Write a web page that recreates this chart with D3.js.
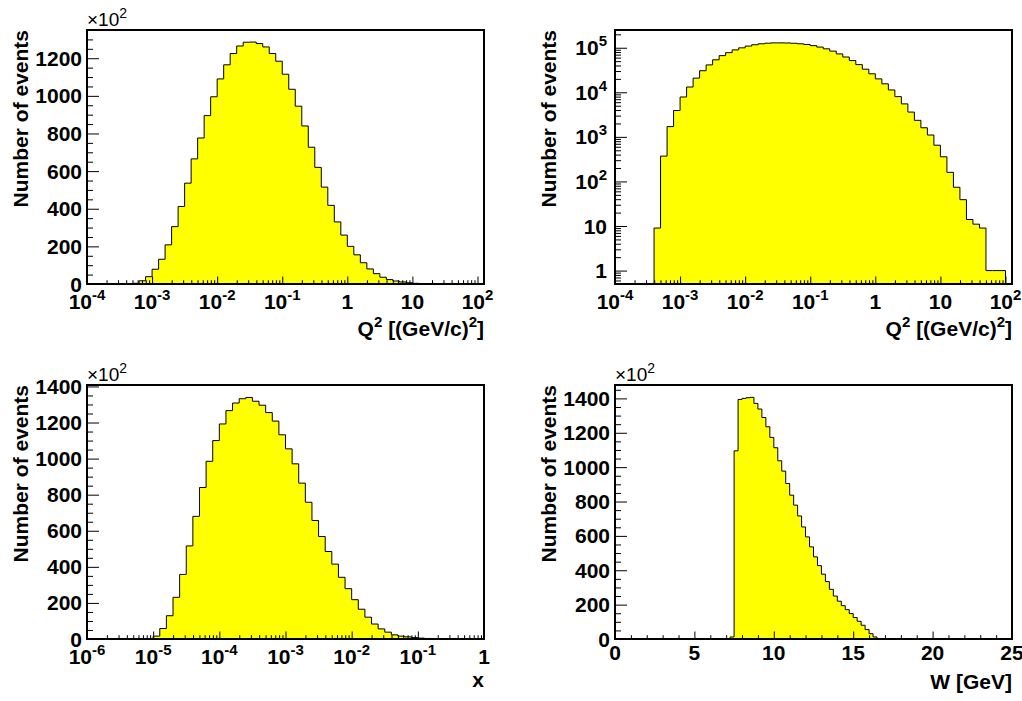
<!DOCTYPE html>
<html>
<head>
<meta charset="utf-8">
<script src="https://cdn.jsdelivr.net/npm/d3@7"></script>
<style>
  body { margin: 0; background: #fff; }
  text { font-family: "Liberation Sans", Arial, Helvetica, sans-serif; }
</style>
</head>
<body>
<div id="chart"></div>
<script>
// Q^2 : 60 log bins, 1e-4 .. 1e2 (10 per decade)
var q2Counts = [
  0, 0, 0, 0, 0, 0, 9, 370, 1700, 3900,
  7850, 13150, 20800, 30500, 41200, 53600, 66500, 77600, 89500, 99500,
  109000, 116500, 122500, 126500, 128500, 128600, 127800, 126000, 122500, 118400,
  111500, 103500, 94500, 84000, 72700, 62000, 51500, 41800, 33000, 26000,
  20000, 15500, 11300, 8000, 5500, 3600, 2350, 1600, 1100, 650,
  357, 160, 74, 39, 14, 11, 9, 1, 1, 1
];

// Bjorken x : 60 log bins, 1e-6 .. 1
var xCounts = [
  0, 0, 0, 0, 0, 0, 0, 0, 0, 300,
  1600, 5800, 12900, 23100, 35800, 51600, 68000, 84000, 98500, 110000,
  119200, 126600, 130800, 133200, 133900, 131800, 129600, 125500, 120800, 113200,
  105400, 97100, 86400, 75800, 65700, 56800, 48500, 41500, 34200, 27900,
  21800, 16500, 12100, 8300, 5600, 3800, 2300, 1600, 1200, 800,
  500, 300, 200, 100, 0, 0, 0, 0, 0, 0
];

// W : 0.25 GeV bins from 0 to 25, non-empty from 7.25 GeV
var wStart = 7.25, wStep = 0.25, wBins = 100;
var wCounts = [
  1200, 109500, 139400, 140000, 140400, 140600, 137100, 133800, 128900, 123500,
  117300, 111300, 103700, 97700, 90500, 83700, 77900, 71600, 65200, 59400,
  53600, 47800, 42700, 37700, 33400, 28900, 25000, 22000, 19400, 17100,
  14800, 12500, 10300, 8000, 5500, 3100, 1200
];

var q2Exps = [-4, -3, -2, -1, 0, 1, 2];
var xExps = [-6, -5, -4, -3, -2, -1, 0];
var logYExps = [0, 1, 2, 3, 4, 5];
var wTicks = [0, 5, 10, 15, 20, 25];

var q2Edges = d3.range(61).map(function(i) { return Math.pow(10, -4 + i / 10); });
var xEdges = d3.range(61).map(function(i) { return Math.pow(10, -6 + i / 10); });
var wEdges = d3.range(wBins + 1).map(function(i) { return i * wStep; });
var wFull = d3.range(wBins).map(function(i) {
  var j = i - Math.round(wStart / wStep);
  return (j >= 0 && j < wCounts.length) ? wCounts[j] : 0;
});

var svg = d3.select("#chart").append("svg")
  .attr("width", 1022)
  .attr("height", 701);

var FS = 21, SUP = 15;

function minorLog(lo, hi) {
  var out = [];
  for (var k = Math.floor(Math.log10(lo)) - 1; k <= Math.ceil(Math.log10(hi)); k++) {
    for (var m = 2; m <= 9; m++) {
      var v = m * Math.pow(10, k);
      if (v > lo * 1.0001 && v < hi * 0.9999) out.push(v);
    }
  }
  return out;
}

// "10" with superscript exponent, or 1 / 10
function powLabel(t, e) {
  if (e === 0) { t.text("1"); return; }
  if (e === 1) { t.text("10"); return; }
  t.append("tspan").text("10");
  t.append("tspan").attr("dy", -9).attr("font-size", SUP).text(e);
}

function drawPanel(p) {
  var g = svg.append("g");
  var x = p.x, y = p.y;
  var base = y.domain()[0];

  // histogram outline + fill
  var pts = [[x(p.edges[0]), y(base)]];
  p.values.forEach(function(v, i) {
    var vv = Math.max(v, base);
    pts.push([x(p.edges[i]), y(vv)]);
    pts.push([x(p.edges[i + 1]), y(vv)]);
  });
  pts.push([x(p.edges[p.edges.length - 1]), y(base)]);
  g.append("path")
    .attr("d", d3.line()(pts))
    .attr("fill", "#ffff00")
    .attr("stroke", "#000")
    .attr("stroke-width", 1);

  // ticks
  var yAx = g.append("g").attr("transform", "translate(" + p.left + ",0)");
  yAx.append("g").call(d3.axisLeft(y).tickValues(p.yMajor).tickSize(-12).tickFormat(""));
  yAx.append("g").call(d3.axisLeft(y).tickValues(p.yMinor).tickSize(-6).tickFormat(""));
  var xAx = g.append("g").attr("transform", "translate(0," + p.bottom + ")");
  xAx.append("g").call(d3.axisBottom(x).tickValues(p.xMajor).tickSize(-7.5).tickFormat(""));
  xAx.append("g").call(d3.axisBottom(x).tickValues(p.xMinor).tickSize(-3.8).tickFormat(""));
  g.selectAll(".domain").remove();
  g.selectAll(".tick line").attr("stroke", "#000");

  // frame
  g.append("rect")
    .attr("x", p.left).attr("y", p.top)
    .attr("width", p.right - p.left).attr("height", p.bottom - p.top)
    .attr("fill", "none").attr("stroke", "#000").attr("stroke-width", 2);

  // y labels
  p.yMajor.forEach(function(v) {
    var t = g.append("text")
      .attr("x", p.left - (p.yLog ? 8 : 5))
      .attr("y", y(v))
      .attr("dy", "0.36em")
      .attr("text-anchor", "end")
      .attr("font-size", FS).attr("font-weight", "bold");
    if (p.yLog) powLabel(t, Math.round(Math.log10(v)));
    else t.text(d3.format("d")(v));
  });

  // x labels
  p.xMajor.forEach(function(v) {
    var t = g.append("text")
      .attr("x", x(v))
      .attr("y", p.bottom + (p.xLog ? 25 : 21))
      .attr("text-anchor", "middle")
      .attr("font-size", FS).attr("font-weight", "bold");
    if (p.xLog) powLabel(t, Math.round(Math.log10(v)));
    else t.text(v);
  });

  // axis titles
  g.append("text")
    .attr("transform", "translate(" + (p.left - 59) + "," + p.top + ") rotate(-90)")
    .attr("text-anchor", "end")
    .attr("font-size", FS).attr("font-weight", "bold")
    .text("Number of events");

  var xt = g.append("text")
    .attr("x", p.right).attr("y", p.bottom + p.titleOff)
    .attr("text-anchor", "end")
    .attr("font-size", FS).attr("font-weight", "bold");
  p.xTitle(xt);

  if (!p.yLog) {
    var m = g.append("text")
      .attr("x", p.left).attr("y", p.top - 4)
      .attr("font-size", 19);
    m.append("tspan").text("\u00d710");
    m.append("tspan").attr("dy", -8).attr("font-size", 14).text("2");
  }
}

function q2Title(t) {
  t.append("tspan").text("Q");
  t.append("tspan").attr("dy", -9).attr("font-size", SUP).text("2");
  t.append("tspan").attr("dy", 9).text(" [(GeV/c)");
  t.append("tspan").attr("dy", -9).attr("font-size", SUP).text("2");
  t.append("tspan").attr("dy", 9).text("]");
}

function linMinor(max, step, majorStep) {
  return d3.range(step, max, step).filter(function(v) { return v % majorStep !== 0; });
}

var q2Max = Math.pow(10, 2.1);
var L1 = 87, L2 = 615, R1 = 484, R2 = 1012;

// top left: Q^2, linear
var x1 = d3.scaleLog().domain([1e-4, q2Max]).range([L1, R1]);
var y1 = d3.scaleLinear().domain([0, 1350]).range([284, 30]);
drawPanel({
  left: L1, right: R1, top: 30, bottom: 284, x: x1, y: y1,
  edges: q2Edges, values: q2Counts.map(function(v) { return v / 100; }),
  xLog: true, yLog: false,
  xMajor: q2Exps.map(function(e) { return Math.pow(10, e); }),
  xMinor: minorLog(1e-4, q2Max),
  yMajor: d3.range(0, 1201, 200), yMinor: linMinor(1350, 50, 200),
  titleOff: 52, xTitle: q2Title
});

// top right: Q^2, log
var x2 = d3.scaleLog().domain([1e-4, q2Max]).range([L2, R2]);
var y2 = d3.scaleLog().domain([0.5, 2.5e5]).range([284, 30]);
drawPanel({
  left: L2, right: R2, top: 30, bottom: 284, x: x2, y: y2,
  edges: q2Edges, values: q2Counts,
  xLog: true, yLog: true,
  xMajor: q2Exps.map(function(e) { return Math.pow(10, e); }),
  xMinor: minorLog(1e-4, q2Max),
  yMajor: logYExps.map(function(e) { return Math.pow(10, e); }),
  yMinor: minorLog(0.5, 2.5e5),
  titleOff: 52, xTitle: q2Title
});

// bottom left: x, linear
var x3 = d3.scaleLog().domain([1e-6, 1]).range([L1, R1]);
var y3 = d3.scaleLinear().domain([0, 1408]).range([639, 385]);
drawPanel({
  left: L1, right: R1, top: 385, bottom: 639, x: x3, y: y3,
  edges: xEdges, values: xCounts.map(function(v) { return v / 100; }),
  xLog: true, yLog: false,
  xMajor: xExps.map(function(e) { return Math.pow(10, e); }),
  xMinor: minorLog(1e-6, 1),
  yMajor: d3.range(0, 1401, 200), yMinor: linMinor(1408, 50, 200),
  titleOff: 48, xTitle: function(t) { t.text("x"); }
});

// bottom right: W, linear
var x4 = d3.scaleLinear().domain([0, 25]).range([L2, R2]);
var y4 = d3.scaleLinear().domain([0, 1478]).range([639, 385]);
drawPanel({
  left: L2, right: R2, top: 385, bottom: 639, x: x4, y: y4,
  edges: wEdges, values: wFull.map(function(v) { return v / 100; }),
  xLog: false, yLog: false,
  xMajor: wTicks, xMinor: d3.range(1, 25).filter(function(v) { return v % 5 !== 0; }),
  yMajor: d3.range(0, 1401, 200), yMinor: linMinor(1478, 50, 200),
  titleOff: 50, xTitle: function(t) { t.text("W [GeV]"); }
});
</script>
</body>
</html>
